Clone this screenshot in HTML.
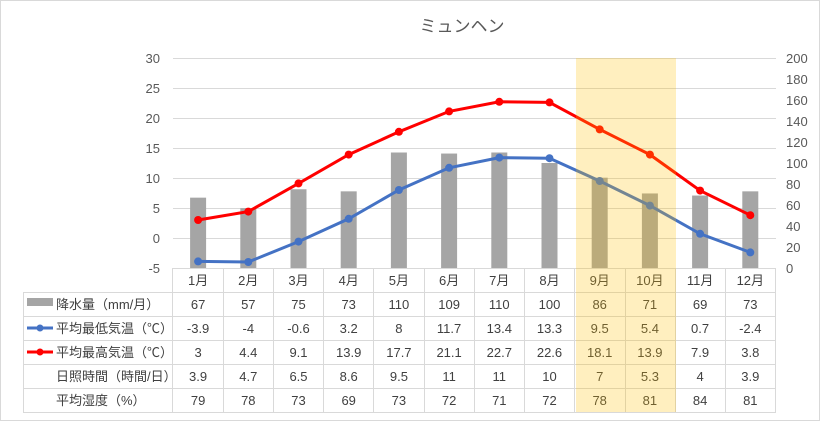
<!DOCTYPE html>
<html><head><meta charset="utf-8"><style>
body{margin:0;background:#fff;}
svg{display:block;font-family:"Liberation Sans","Noto Sans CJK JP",sans-serif;}
</style></head><body>
<svg width="820" height="421" viewBox="0 0 820 421">
<rect x="0.5" y="0.5" width="819" height="420" fill="#fff" stroke="#d9d9d9"/>
<text x="462" y="32" font-size="17" text-anchor="middle" fill="#595959">ミュンヘン</text>
<g stroke="#d9d9d9" stroke-width="1">
<line x1="173" y1="58.5" x2="776" y2="58.5"/><line x1="173" y1="88.5" x2="776" y2="88.5"/>
<line x1="173" y1="118.5" x2="776" y2="118.5"/><line x1="173" y1="148.5" x2="776" y2="148.5"/>
<line x1="173" y1="178.5" x2="776" y2="178.5"/><line x1="173" y1="208.5" x2="776" y2="208.5"/>
<line x1="173" y1="238.5" x2="776" y2="238.5"/>
</g>
<g font-size="13" fill="#595959" text-anchor="end">
<text x="160" y="63">30</text><text x="160" y="93">25</text><text x="160" y="123">20</text>
<text x="160" y="153">15</text><text x="160" y="183">10</text><text x="160" y="213">5</text>
<text x="160" y="243">0</text><text x="160" y="273">-5</text>
</g>
<g font-size="13" fill="#595959" text-anchor="start">
<text x="786" y="63">200</text><text x="786" y="84">180</text><text x="786" y="105">160</text>
<text x="786" y="126">140</text><text x="786" y="147">120</text><text x="786" y="168">100</text>
<text x="786" y="189">80</text><text x="786" y="210">60</text><text x="786" y="231">40</text>
<text x="786" y="252">20</text><text x="786" y="273">0</text>
</g>
<g fill="#a5a5a5">
<rect x="190.1" y="197.65" width="16" height="70.35"/><rect x="240.3" y="208.15" width="16" height="59.85"/>
<rect x="290.5" y="189.25" width="16" height="78.75"/><rect x="340.7" y="191.35" width="16" height="76.65"/>
<rect x="390.9" y="152.5" width="16" height="115.5"/><rect x="441.1" y="153.55" width="16" height="114.45"/>
<rect x="491.3" y="152.5" width="16" height="115.5"/><rect x="541.5" y="163" width="16" height="105"/>
<rect x="591.7" y="177.7" width="16" height="90.3"/><rect x="641.9" y="193.45" width="16" height="74.55"/>
<rect x="692.1" y="195.55" width="16" height="72.45"/><rect x="742.3" y="191.35" width="16" height="76.65"/>
</g>
<polyline fill="none" stroke="#4472c4" stroke-width="3" points="198.1,261.4 248.3,262 298.5,241.6 348.7,218.8 398.9,190 449.1,167.8 499.3,157.6 549.5,158.2 599.7,181 649.9,205.6 700.1,233.8 750.3,252.4"/>
<g fill="#4472c4">
<circle cx="198.1" cy="261.4" r="4"/><circle cx="248.3" cy="262" r="4"/><circle cx="298.5" cy="241.6" r="4"/><circle cx="348.7" cy="218.8" r="4"/><circle cx="398.9" cy="190" r="4"/><circle cx="449.1" cy="167.8" r="4"/><circle cx="499.3" cy="157.6" r="4"/><circle cx="549.5" cy="158.2" r="4"/><circle cx="599.7" cy="181" r="4"/><circle cx="649.9" cy="205.6" r="4"/><circle cx="700.1" cy="233.8" r="4"/><circle cx="750.3" cy="252.4" r="4"/>
</g>
<polyline fill="none" stroke="#ff0000" stroke-width="3" points="198.1,220 248.3,211.6 298.5,183.4 348.7,154.6 398.9,131.8 449.1,111.4 499.3,101.8 549.5,102.4 599.7,129.4 649.9,154.6 700.1,190.6 750.3,215.2"/>
<g fill="#ff0000">
<circle cx="198.1" cy="220" r="4"/><circle cx="248.3" cy="211.6" r="4"/><circle cx="298.5" cy="183.4" r="4"/><circle cx="348.7" cy="154.6" r="4"/><circle cx="398.9" cy="131.8" r="4"/><circle cx="449.1" cy="111.4" r="4"/><circle cx="499.3" cy="101.8" r="4"/><circle cx="549.5" cy="102.4" r="4"/><circle cx="599.7" cy="129.4" r="4"/><circle cx="649.9" cy="154.6" r="4"/><circle cx="700.1" cy="190.6" r="4"/><circle cx="750.3" cy="215.2" r="4"/>
</g>
<!-- table -->
<g stroke="#d9d9d9" stroke-width="1" fill="none">
<line x1="173" y1="268.5" x2="776" y2="268.5"/>
<line x1="23" y1="292.5" x2="776" y2="292.5"/>
<line x1="23" y1="316.5" x2="776" y2="316.5"/>
<line x1="23" y1="340.5" x2="776" y2="340.5"/>
<line x1="23" y1="364.5" x2="776" y2="364.5"/>
<line x1="23" y1="388.5" x2="776" y2="388.5"/>
<line x1="23" y1="412.5" x2="776" y2="412.5"/>
<line x1="23.5" y1="292" x2="23.5" y2="413"/>
<line x1="172.5" y1="268" x2="172.5" y2="413"/><line x1="223.5" y1="268" x2="223.5" y2="413"/>
<line x1="273.5" y1="268" x2="273.5" y2="413"/><line x1="323.5" y1="268" x2="323.5" y2="413"/>
<line x1="373.5" y1="268" x2="373.5" y2="413"/><line x1="424.5" y1="268" x2="424.5" y2="413"/>
<line x1="474.5" y1="268" x2="474.5" y2="413"/><line x1="524.5" y1="268" x2="524.5" y2="413"/>
<line x1="574.5" y1="268" x2="574.5" y2="413"/><line x1="625.5" y1="268" x2="625.5" y2="413"/>
<line x1="675.5" y1="268" x2="675.5" y2="413"/><line x1="725.5" y1="268" x2="725.5" y2="413"/>
<line x1="775.5" y1="268" x2="775.5" y2="413"/>
</g>
<g font-size="13" fill="#404040" text-anchor="middle">
<g transform="translate(0,285)"><text x="198.1">1月</text><text x="248.3">2月</text><text x="298.5">3月</text><text x="348.7">4月</text><text x="398.9">5月</text><text x="449.1">6月</text><text x="499.3">7月</text><text x="549.5">8月</text><text x="599.7">9月</text><text x="649.9">10月</text><text x="700.1">11月</text><text x="750.3">12月</text></g>
<g transform="translate(0,309)"><text x="198.1">67</text><text x="248.3">57</text><text x="298.5">75</text><text x="348.7">73</text><text x="398.9">110</text><text x="449.1">109</text><text x="499.3">110</text><text x="549.5">100</text><text x="599.7">86</text><text x="649.9">71</text><text x="700.1">69</text><text x="750.3">73</text></g>
<g transform="translate(0,333)"><text x="198.1">-3.9</text><text x="248.3">-4</text><text x="298.5">-0.6</text><text x="348.7">3.2</text><text x="398.9">8</text><text x="449.1">11.7</text><text x="499.3">13.4</text><text x="549.5">13.3</text><text x="599.7">9.5</text><text x="649.9">5.4</text><text x="700.1">0.7</text><text x="750.3">-2.4</text></g>
<g transform="translate(0,357)"><text x="198.1">3</text><text x="248.3">4.4</text><text x="298.5">9.1</text><text x="348.7">13.9</text><text x="398.9">17.7</text><text x="449.1">21.1</text><text x="499.3">22.7</text><text x="549.5">22.6</text><text x="599.7">18.1</text><text x="649.9">13.9</text><text x="700.1">7.9</text><text x="750.3">3.8</text></g>
<g transform="translate(0,381)"><text x="198.1">3.9</text><text x="248.3">4.7</text><text x="298.5">6.5</text><text x="348.7">8.6</text><text x="398.9">9.5</text><text x="449.1">11</text><text x="499.3">11</text><text x="549.5">10</text><text x="599.7">7</text><text x="649.9">5.3</text><text x="700.1">4</text><text x="750.3">3.9</text></g>
<g transform="translate(0,405)"><text x="198.1">79</text><text x="248.3">78</text><text x="298.5">73</text><text x="348.7">69</text><text x="398.9">73</text><text x="449.1">72</text><text x="499.3">71</text><text x="549.5">72</text><text x="599.7">78</text><text x="649.9">81</text><text x="700.1">84</text><text x="750.3">81</text></g>
</g>
<rect x="27" y="298" width="26" height="8" fill="#a5a5a5"/>
<line x1="27" y1="328" x2="53" y2="328" stroke="#4472c4" stroke-width="3"/><circle cx="40" cy="328" r="3.5" fill="#4472c4"/>
<line x1="27" y1="352" x2="53" y2="352" stroke="#ff0000" stroke-width="3"/><circle cx="40" cy="352" r="3.5" fill="#ff0000"/>
<g font-size="13" fill="#404040">
<text x="56" y="309">降水量（mm/月）</text>
<text x="56" y="333">平均最低気温（℃）</text>
<text x="56" y="357">平均最高気温（℃）</text>
<text x="56" y="381">日照時間（時間/日）</text>
<text x="56" y="405">平均湿度（%）</text>
</g>
<rect x="576" y="58" width="100" height="354" fill="rgba(255,192,0,0.25)"/>
</svg>
</body></html>
